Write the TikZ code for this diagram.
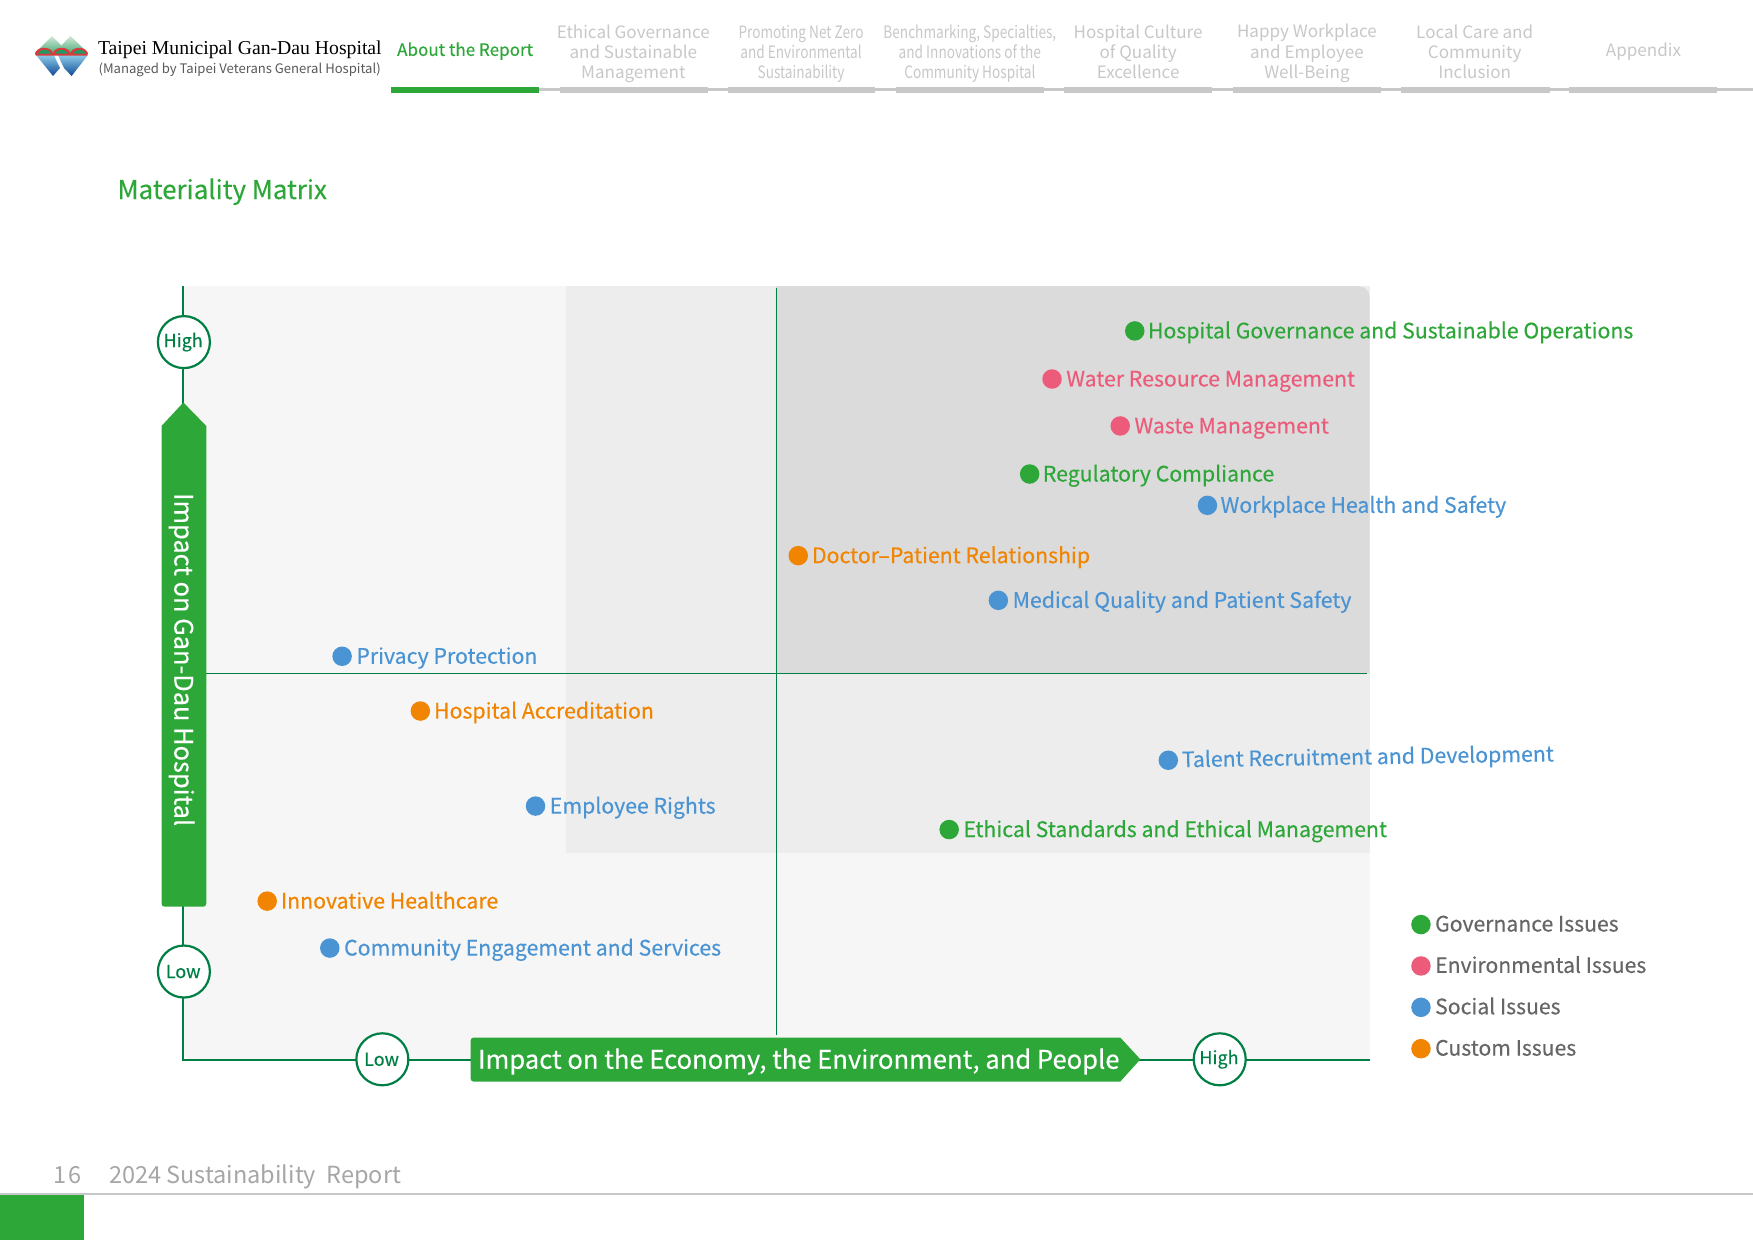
\documentclass[tikz,border=0pt]{standalone}
\usepackage{fontspec}
\setmainfont{Noto Sans CJK TC}
\newfontfamily\medfont[FakeBold=0.3]{Noto Sans CJK TC}
\newfontfamily\narrowfont[FakeStretch=0.8]{Noto Sans CJK TC}
\newfontfamily\logofont{Liberation Serif}
\definecolor{gov}{HTML}{2CA738}
\definecolor{env}{HTML}{EC5B7A}
\definecolor{soc}{HTML}{4A94D3}
\definecolor{cus}{HTML}{F18400}
\definecolor{axisgreen}{HTML}{007F45}
\definecolor{navgrey}{HTML}{C8C8C8}
\definecolor{panela}{HTML}{F6F6F6}
\definecolor{panelb}{HTML}{EDEDED}
\definecolor{panelc}{HTML}{DBDBDB}
\definecolor{mtntop}{HTML}{D2E8D8}
\definecolor{mtnbot}{HTML}{4DAF7C}
\definecolor{watertop}{HTML}{8CCBE8}
\definecolor{watermid}{HTML}{2A8CC8}
\definecolor{waterbot}{HTML}{0F4A96}
\definecolor{archred}{HTML}{D93A3A}
\definecolor{archgreen}{HTML}{1F9A64}
\tikzset{
  x=1.11798pt,y=-1.11798pt,
  dotnode/.style={circle,inner sep=0,minimum size=19.5pt},
  issuelabel/.style={anchor=base west,inner sep=0,font=\medfont\fontsize{21.3pt}{24pt}\selectfont},
  legendlabel/.style={anchor=base west,inner sep=0,text=black!60,font=\medfont\fontsize{21.2pt}{24pt}\selectfont},
  levelcircle/.style={circle,draw=axisgreen,line width=2.2pt,fill=white,minimum size=52pt,inner sep=0,text=axisgreen,font=\medfont\fontsize{18pt}{20pt}\selectfont},
  navtext/.style={align=center,inner sep=0,text=navgrey,font=\fontsize{17.05pt}{20.1pt}\selectfont},
  navnarrow/.style={align=center,inner sep=0,text=navgrey,font=\narrowfont\fontsize{17.05pt}{20.1pt}\selectfont},
  navbar/.style={fill=navgrey,draw=none},
  axisline/.style={draw=axisgreen,line width=2pt},
  thinline/.style={draw=axisgreen,line width=1pt},
  arrowband/.style={fill=gov,draw=none},
}
\newcommand{\issue}[7]{%
  \node[dotnode,fill=#2] (d#1) at (#3,#4) {};
  \node[issuelabel,text=#2] (t#1) at (#5-0.4,#4+6.7) {#6};
}
\newcommand{\legenditem}[4]{%
  \node[dotnode,fill=#2] (ld#1) at (1271,#3) {};
  \node[legendlabel] (lt#1) at (1283.5,#3+6.2) {#4};
}
\newcommand{\lvl}[1]{\raisebox{-1pt}{#1}}
\begin{document}
\begin{tikzpicture}
\useasboundingbox (0,0) rectangle (1568,1109);
\fill[white] (0,0) rectangle (1568,1109);
% logo
\begin{scope}[x=1pt,y=-1pt]
  \shade[top color=mtntop,bottom color=mtnbot]
     (52,36) -- (35,53) -- (69,53) -- cycle;
  \shade[top color=mtntop,bottom color=mtnbot]
     (70.6,36) -- (54,53) -- (88,53) -- cycle;
  \shade[top color=watertop,middle color=watermid,bottom color=waterbot]
     (36,55) -- (53,76) -- (60,68) .. controls (58,64) and (56,60) .. (54,55) -- cycle;
  \shade[top color=watertop,middle color=watermid,bottom color=waterbot]
     (58,55) .. controls (60,60) and (62,64) .. (64,68) -- (71.6,76) -- (88,55) -- cycle;
  \fill[archred] (35,53.5) .. controls (37,46) and (51,46) .. (53,53)
     .. controls (55,46) and (68,46) .. (70.5,53)
     .. controls (72.5,46) and (86,46) .. (88,53.5) -- (87,55.5) -- (36,55.5) -- cycle;
  \fill[archgreen] (38,53.5) .. controls (40,48.5) and (49,48.5) .. (51,53.5) -- cycle;
  \fill[archgreen] (55,53.5) .. controls (57,48.5) and (66,48.5) .. (68,53.5) -- cycle;
  \fill[archgreen] (73,53.5) .. controls (75,48.5) and (84,48.5) .. (86,53.5) -- cycle;
\end{scope}
\node[anchor=base west,inner sep=0,text=black,font=\logofont\fontsize{19.7pt}{20pt}\selectfont] (logotitle) at (87.5,48.5) {Taipei Municipal Gan-Dau Hospital};
\node[anchor=base west,inner sep=0,text=black!65,font=\fontsize{13.1pt}{16pt}\selectfont] (logosub) at (88,65.5) {(Managed by Taipei Veterans General Hospital)};
% navigation
\fill[navgrey] (482,79) rectangle (1568,81);
\fill[gov] (350,78) rectangle (482,83);
\foreach \a/\b in {501/633,651/783,801/934,952/1084,1103/1235,1253/1386,1403/1536}{
  \fill[navbar] (\a,78) rectangle (\b,83);
}
\node[anchor=base,inner sep=0,text=gov,font=\medfont\fontsize{17.05pt}{20pt}\selectfont] (nav0) at (416,50) {About the Report};
\node[navtext] (nav1) at (566.5,48.2) {Ethical Governance\\and Sustainable\\Management};
\node[navnarrow] (nav2) at (716.5,48.2) {Promoting Net Zero\\and Environmental\\Sustainability};
\node[navnarrow] (nav3) at (867.5,48.2) {Benchmarking, Specialties,\\and Innovations of the\\Community Hospital};
\node[navtext] (nav4) at (1018,46) {Hospital Culture\\of Quality\\Excellence};
\node[navtext] (nav5) at (1169,47.8) {Happy Workplace\\and Employee\\Well-Being};
\node[navtext] (nav6) at (1319,46) {Local Care and\\Community\\Inclusion};
\node[navtext] (nav7) at (1470,46.2) {Appendix};
% title
\node[anchor=base west,inner sep=0,text=gov,font=\medfont\fontsize{25.9pt}{28pt}\selectfont] (title) at (105,178) {Materiality Matrix};
% panels
\fill[panela] (164,256) -- (1225,256) -- (1225,948) [rounded corners=9pt] -- (164,948) [sharp corners] -- cycle;
\fill[panelb] (506,256) rectangle (1225,763);
\fill[panelc] (694,256) [rounded corners=11pt] -- (1225,256) [sharp corners] -- (1225,602) -- (694,602) -- cycle;
% matrix cross
\coordinate (hl) at (184,602.5); \coordinate (hr) at (1223,602.5);
\coordinate (vt) at (694.5,258); \coordinate (vb) at (694.5,926);
\draw[thinline] (hl) -- (hr);
\draw[thinline] (vt) -- (vb);
% axes
\coordinate (axtop) at (163.7,256); \coordinate (axcorner) at (163.7,947.8); \coordinate (axright) at (1225,947.8);
\draw[axisline] (axtop) -- (axcorner) -- (axright);
\node[levelcircle] (yhigh) at (164.5,306) {\lvl{High}\kern1.5pt};
\node[levelcircle] (ylow) at (164.5,869) {Low\kern1.5pt};
\node[levelcircle] (xlow) at (342,947.5) {Low\kern1.5pt};
\node[levelcircle] (xhigh) at (1091,947.5) {\lvl{High}\kern1.5pt};
% axis bands
\fill[arrowband] (164,360) -- (184.5,381) [rounded corners=3pt] -- (184.5,811) -- (144.5,811) [sharp corners] -- (144.5,381) -- cycle;
\fill[arrowband] (1020,947.5) -- (1002,967.5) [rounded corners=3pt] -- (421,967.5) -- (421,928) [sharp corners] -- (1002,928) -- cycle;
\node[rotate=-90,inner sep=0,text=white,font=\medfont\fontsize{25.4pt}{27pt}\selectfont] (ylabel) at (162.5,590) {Impact on Gan-Dau Hospital};
\node[inner sep=0,text=white,font=\medfont\fontsize{25.6pt}{30pt}\selectfont] (xlabel) at (714.5,949.5) {Impact on the Economy, the Environment, and People};
% issues
\issue{a}{gov}{1015}{296}{1027}{Hospital Governance and Sustainable Operations}{}
\issue{b}{env}{941}{339}{954}{Water Resource Management}{}
\issue{c}{env}{1002}{381}{1015}{Waste Management}{}
\issue{d}{gov}{921}{424}{933}{Regulatory Compliance}{}
\issue{e}{soc}{1080}{452}{1092}{Workplace Health and Safety}{}
\issue{f}{cus}{714}{497}{726.5}{Doctor–Patient Relationship}{}
\issue{g}{soc}{893}{537}{906}{Medical Quality and Patient Safety}{}
\issue{h}{soc}{306}{587}{319}{Privacy Protection}{}
\issue{i}{cus}{376}{636}{388.5}{Hospital Accreditation}{}
\node[dotnode,fill=soc] (dj) at (1045,680) {};
\node[issuelabel,text=soc,rotate=0.9] (tj) at (1057,686.3) {Talent Recruitment and Development};
\issue{k}{soc}{479}{721}{492}{Employee Rights}{}
\issue{l}{gov}{849}{742}{862}{Ethical Standards and Ethical Management}{}
\issue{m}{cus}{239}{806}{251.5}{Innovative Healthcare}{}
\issue{n}{soc}{295}{848}{308}{Community Engagement and Services}{}
% legend
\legenditem{a}{gov}{827}{Governance Issues}
\legenditem{b}{env}{864}{Environmental Issues}
\legenditem{c}{soc}{901}{Social Issues}
\legenditem{d}{cus}{938}{Custom Issues}
% footer
\coordinate (fl) at (0,1068); \coordinate (fr) at (1568,1068);
\draw[navgrey,line width=1.5pt] (fl) -- (fr);
\fill[gov] (0,1069) rectangle (75,1109);
\node[anchor=base west,inner sep=0,text=black!35,font=\fontsize{23.5pt}{27pt}\selectfont] (pageno) at (48,1059) {1\kern1.5pt 6};
\node[anchor=base west,inner sep=0,text=black!35,font=\fontsize{23.5pt}{27pt}\selectfont] (footer) at (97.5,1059) {2024 Sustainability\ \ Report};
\end{tikzpicture}
\end{document}
